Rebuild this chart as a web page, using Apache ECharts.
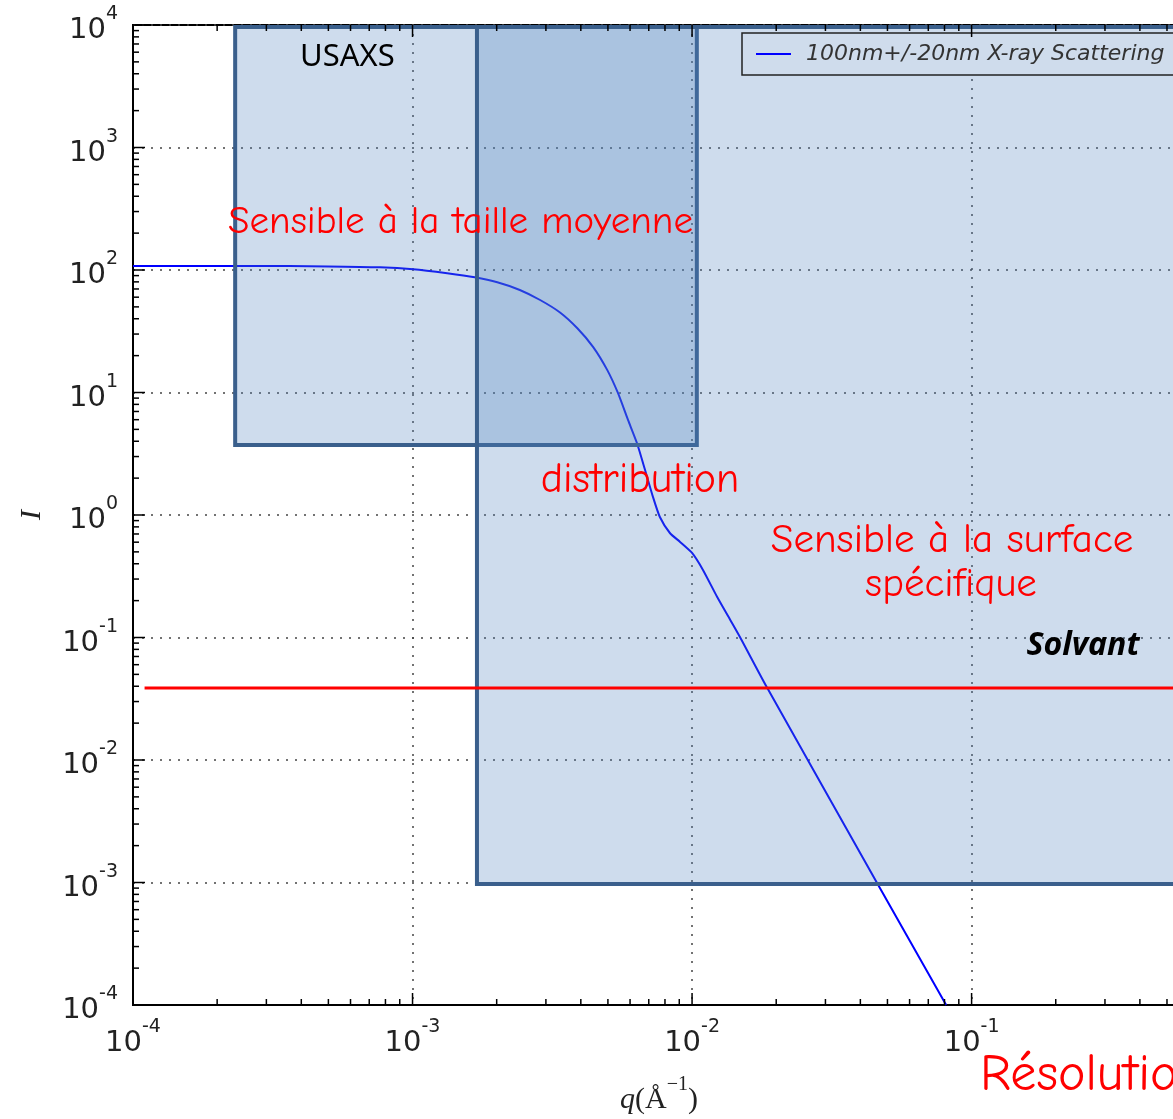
<!DOCTYPE html>
<html>
<head>
<meta charset="utf-8">
<title>SAXS / USAXS</title>
<script src="https://cdn.jsdelivr.net/npm/echarts@6/dist/echarts.min.js"></script>
<style>
  html, body { margin: 0; padding: 0; background: #fff; }
  #chart { width: 1173px; height: 1119px; }
</style>
</head>
<body>
<div id="chart"></div>
<script>
// curve: q (1/Å) and I
const curveName = '100nm+/-20nm X-ray Scattering';
const qValues = [1e-4, 2.62e-4, 5.0e-4, 7.65e-4, 1.005e-3, 1.33e-3, 1.67e-3, 2.01e-3, 2.42e-3, 2.86e-3,
  3.37e-3, 3.88e-3, 4.43e-3, 4.97e-3, 5.43e-3, 5.90e-3, 6.35e-3, 6.79e-3, 7.25e-3, 7.67e-3,
  8.33e-3, 9.06e-3, 1.00e-2, 1.094e-2, 1.23e-2, 1.37e-2, 1.49e-2, 1.85e-2, 4.59e-2, 8.11e-2];
const intensity = [108, 108, 107, 105.2, 101.4, 94.0, 87.1, 79.4, 68.7, 56.9,
  45.0, 33.6, 23.5, 15.3, 9.91, 5.97, 3.87, 2.33, 1.40, 0.963,
  0.713, 0.603, 0.490, 0.356, 0.214, 0.139, 0.0991, 0.0394, 9.9e-4, 1.0e-4];

// overlay boxes: [qMin, qMax, Imin, Imax]
const usaxsBox = [2.32e-4, 1.04e-2, 3.73, 1e4];
const saxsBox = [1.70e-3, 1, 9.7e-4, 1e4];

// solvent level
const solventQ = [1.1e-4, 1];
const solventI = 0.0387;

// axes
const xMin = 1e-4, xMax = 0.58;
const yMin = 1e-4, yMax = 1e4;
const xDecades = [1e-4, 1e-3, 1e-2, 1e-1];
const yDecades = [1e-4, 1e-3, 1e-2, 1e-1, 1, 10, 100, 1000, 1e4];
const minorSteps = [2, 3, 4, 5, 6, 7, 8, 9];

const xTicks = [];
xDecades.forEach(d => {
  xTicks.push([d, yMin, 12]);
  minorSteps.forEach(m => { if (d * m < xMax) xTicks.push([d * m, yMin, 6]); });
});
const yTicks = [];
yDecades.forEach(d => {
  yTicks.push([xMin, d, 12]);
  if (d < yMax) minorSteps.forEach(m => yTicks.push([xMin, d * m, 6]));
});

const labelRich = {
  b: { fontFamily: 'DejaVu Sans', fontSize: 29, color: '#222', lineHeight: 40, verticalAlign: 'bottom' },
  s: { fontFamily: 'DejaVu Sans', fontSize: 19, color: '#222', verticalAlign: 'top' }
};
function powLabel(v) {
  const e = Math.round(Math.log10(v));
  return '{b|10}{s|' + e + '}';
}

const gridLine = { show: true, lineStyle: { color: '#444', width: 1.5, type: [2, 7] } };
const redFont = "'Comic Sans MS', 'Comic Neue', 'Noto Sans', sans-serif";

const chart = echarts.init(document.getElementById('chart'));
const option = {
  animation: false,
  grid: {
    left: 133, right: -12, top: 25, bottom: 114,
    containLabel: false, outerBoundsMode: 'none',
    show: true, borderColor: '#000', borderWidth: 2
  },
  legend: {
    data: [curveName], left: 742, top: 33,
    icon: 'rect', itemWidth: 35, itemHeight: 2,
    padding: [10, 14, 10, 14], borderColor: '#222', borderWidth: 1.5, backgroundColor: '#cfdcec',
    textStyle: { fontFamily: 'DejaVu Sans', fontStyle: 'italic', fontSize: 22, color: '#333', padding: [0, 0, 0, 10] }
  },
  xAxis: {
    type: 'log', logBase: 10, min: xMin, max: xMax, splitNumber: 4,
    name: '{q|q}{p|(Å}{s|−1}{p|)}', nameLocation: 'middle', nameGap: 70, nameMoveOverlap: false,
    nameTextStyle: {
      rich: {
        q: { fontFamily: 'Liberation Serif', fontStyle: 'italic', fontSize: 30, color: '#222', lineHeight: 40, verticalAlign: 'bottom' },
        p: { fontFamily: 'Liberation Serif', fontSize: 30, color: '#222', lineHeight: 40, verticalAlign: 'bottom' },
        s: { fontFamily: 'Liberation Serif', fontSize: 20, color: '#222', verticalAlign: 'top' }
      }
    },
    axisLine: { show: true, lineStyle: { color: '#000', width: 2 } },
    axisTick: { show: false },
    axisLabel: { formatter: powLabel, rich: labelRich, margin: 13, showMinLabel: true, showMaxLabel: false },
    splitLine: gridLine
  },
  yAxis: {
    type: 'log', logBase: 10, min: yMin, max: yMax, splitNumber: 8,
    name: 'I', nameLocation: 'middle', nameGap: 86, nameRotate: 90, nameMoveOverlap: false,
    nameTextStyle: { fontFamily: 'Liberation Serif', fontStyle: 'italic', fontSize: 30, color: '#222' },
    axisLine: { show: true, lineStyle: { color: '#000', width: 2 } },
    axisTick: { show: false },
    axisLabel: { formatter: powLabel, rich: labelRich, margin: 15, showMinLabel: true, showMaxLabel: true },
    splitLine: gridLine
  },
  series: [
    {
      name: curveName, type: 'line', z: 2,
      data: qValues.map((q, i) => [q, intensity[i]]),
      symbol: 'none', smooth: 0.2,
      itemStyle: { color: '#0000ff' },
      lineStyle: { color: '#0000ff', width: 2 }
    },
    {
      name: 'boxes', type: 'custom', z: 3,
      data: [usaxsBox, saxsBox],
      renderItem: (params, api) => {
        const p0 = api.coord([api.value(0), api.value(3)]);
        const p1 = api.coord([api.value(1), api.value(2)]);
        return {
          type: 'rect',
          shape: { x: p0[0], y: p0[1] + 2, width: p1[0] - p0[0], height: p1[1] - p0[1] - 2 },
          style: { fill: 'rgba(79,129,189,0.28)', stroke: '#3a5f8c', lineWidth: 4 }
        };
      }
    },
    {
      name: 'solvant', type: 'line', z: 4,
      data: solventQ.map(q => [q, solventI]),
      symbol: 'none',
      lineStyle: { color: '#ff0000', width: 3 }
    },
    {
      name: 'xticks', type: 'custom', z: 4,
      data: xTicks,
      renderItem: (params, api) => {
        const b = api.coord([api.value(0), yMin]);
        const t = api.coord([api.value(0), yMax]);
        const len = api.value(2);
        return {
          type: 'group',
          children: [
            { type: 'line', shape: { x1: b[0], y1: b[1], x2: b[0], y2: b[1] - len }, style: { stroke: '#000', lineWidth: 1.5 } },
            { type: 'line', shape: { x1: t[0], y1: t[1], x2: t[0], y2: t[1] + len }, style: { stroke: '#000', lineWidth: 1.5 } }
          ]
        };
      }
    },
    {
      name: 'yticks', type: 'custom', z: 4,
      data: yTicks,
      renderItem: (params, api) => {
        const p = api.coord([xMin, api.value(1)]);
        const len = api.value(2);
        return { type: 'line', shape: { x1: p[0], y1: p[1], x2: p[0] + len, y2: p[1] }, style: { stroke: '#000', lineWidth: 1.5 } };
      }
    }
  ],
  graphic: [
    { type: 'text', x: 300, y: 57, z: 10, style: { text: 'USAXS', fill: '#000', fontFamily: 'Noto Sans', fontSize: 31, align: 'left', verticalAlign: 'middle' } },
    { type: 'text', x: 228, y: 222, z: 10, style: { text: 'Sensible à la taille moyenne', fill: '#ff0000', fontFamily: redFont, fontSize: 39, align: 'left', verticalAlign: 'middle' } },
    { type: 'text', x: 640, y: 480, z: 10, style: { text: 'distribution', fill: '#ff0000', fontFamily: redFont, fontSize: 42, align: 'center', verticalAlign: 'middle' } },
    { type: 'text', x: 952, y: 540, z: 10, style: { text: 'Sensible à la surface', fill: '#ff0000', fontFamily: redFont, fontSize: 41, align: 'center', verticalAlign: 'middle' } },
    { type: 'text', x: 951, y: 584, z: 10, style: { text: 'spécifique', fill: '#ff0000', fontFamily: redFont, fontSize: 41, align: 'center', verticalAlign: 'middle' } },
    { type: 'text', x: 1083, y: 646, z: 10, style: { text: 'Solvant', fill: '#000', fontFamily: 'Noto Sans', fontWeight: 'bold', fontStyle: 'italic', fontSize: 32, align: 'center', verticalAlign: 'middle' } },
    { type: 'text', x: 980, y: 1075, z: 10, style: { text: 'Résolution', fill: '#ff0000', fontFamily: redFont, fontSize: 52, align: 'left', verticalAlign: 'middle' } }
  ]
};
chart.setOption(option);
</script>
</body>
</html>
